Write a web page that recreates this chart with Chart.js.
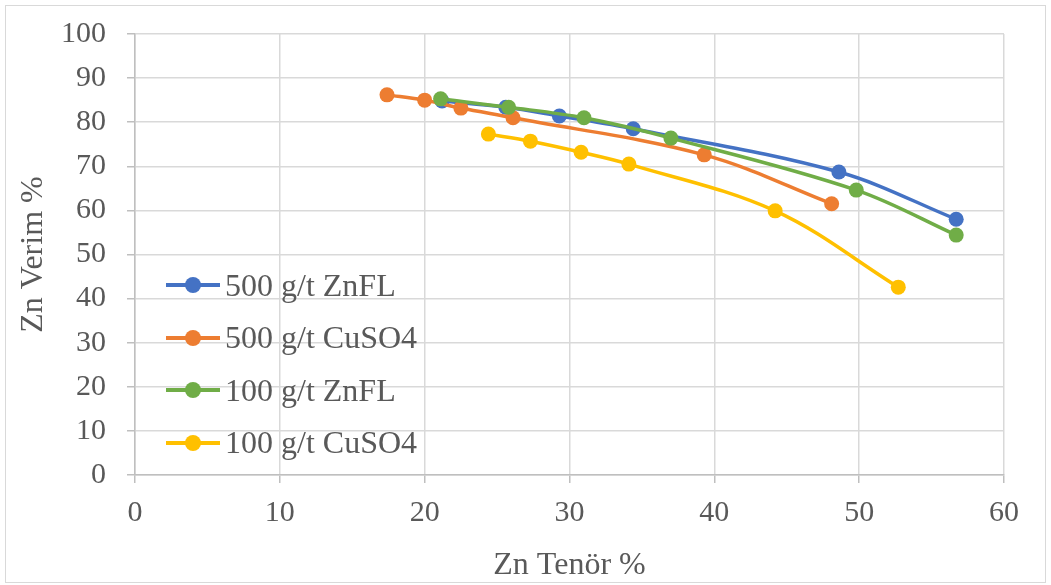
<!DOCTYPE html>
<html>
<head>
<meta charset="utf-8">
<script src="https://cdn.jsdelivr.net/npm/chart.js@4"></script>
<style>
  html, body { margin: 0; padding: 0; background: #fff; }
  #wrap { position: relative; width: 1051px; height: 585px; }
  #chart { position: absolute; left: 0; top: 0; }
  #frame { position: absolute; left: 5px; top: 5px; width: 1041px; height: 578px; border: 1px solid #d9d9d9; box-sizing: border-box; }
  #legend { position: absolute; left: 166px; top: 259px; font-family: "Liberation Serif", "Times New Roman", serif; font-size: 32px; color: #595959; }
  #legend .row { height: 52.5px; display: flex; align-items: center; }
  #legend .mark { position: relative; width: 54px; height: 16px; margin-right: 5px; }
  #legend .mark i { position: absolute; left: 0; right: 0; top: 6px; height: 4px; }
  #legend .mark b { position: absolute; left: 19px; top: 0; width: 16px; height: 16px; border-radius: 50%; }
</style>
</head>
<body>
<div id="wrap">
  <div id="frame"></div>
  <canvas id="chart" width="1051" height="585"></canvas>
  <div id="legend"></div>
</div>
<script>
const seriesNames = ['500 g/t ZnFL', '500 g/t CuSO4', '100 g/t ZnFL', '100 g/t CuSO4'];
const seriesColors = ['#4472C4', '#ED7D31', '#70AD47', '#FFC000'];

// Zn Tenör % (x) and Zn Verim % (y)
const znfl500X = [21.2, 25.6, 29.3, 34.4, 48.6, 56.7];
const znfl500Y = [84.8, 83.4, 81.4, 78.5, 68.7, 58.0];
const cuso500X = [17.4, 20.0, 22.5, 26.1, 39.3, 48.1];
const cuso500Y = [86.2, 85.0, 83.2, 81.0, 72.6, 61.5];
const znfl100X = [21.1, 25.8, 31.0, 37.0, 49.8, 56.7];
const znfl100Y = [85.3, 83.4, 81.0, 76.4, 64.6, 54.4];
const cuso100X = [24.4, 27.3, 30.8, 34.1, 44.2, 52.7];
const cuso100Y = [77.3, 75.7, 73.2, 70.5, 59.9, 42.6];

const xTicks = [0, 10, 20, 30, 40, 50, 60];
const yTicks = [0, 10, 20, 30, 40, 50, 60, 70, 80, 90, 100];

const seriesX = [znfl500X, cuso500X, znfl100X, cuso100X];
const seriesY = [znfl500Y, cuso500Y, znfl100Y, cuso100Y];

const family = '"Liberation Serif", "Times New Roman", serif';
const tickFont = { family: family, size: 30 };
const titleFont = { family: family, size: 32 };
const textColor = '#595959';

const datasets = seriesNames.map((name, i) => ({
    label: name,
    data: seriesX[i].map((x, j) => ({ x: x, y: seriesY[i][j] })),
    borderColor: seriesColors[i],
    backgroundColor: seriesColors[i],
    borderWidth: 3.5,
    pointRadius: 7.5,
    pointHoverRadius: 7.5,
    pointBorderWidth: 0,
    tension: 0.35,
    showLine: true,
    order: 4 - i
}));

new Chart('chart', {
    type: 'scatter',
    data: { datasets: datasets },
    options: {
        responsive: false,
        animation: false,
        layout: { padding: { left: 14, right: 47, top: 34, bottom: 0 } },
        plugins: { legend: { display: false }, tooltip: { enabled: false } },
        scales: {
            x: {
                min: 0, max: 60,
                afterBuildTicks: axis => { axis.ticks = xTicks.map(v => ({ value: v })); },
                afterFit: axis => { axis.height = 110; axis.paddingLeft = 0; axis.paddingRight = 0; },
                grid: { color: '#d9d9d9', lineWidth: 1.5, tickLength: 8, tickColor: '#bfbfbf' },
                border: { color: '#bfbfbf', width: 1.5 },
                ticks: { font: tickFont, color: textColor, padding: 12, maxRotation: 0 },
                title: { display: true, text: 'Zn Tenör %', font: titleFont, color: textColor, padding: { top: 0, bottom: 0 } }
            },
            y: {
                min: 0, max: 100,
                afterBuildTicks: axis => { axis.ticks = yTicks.map(v => ({ value: v })); },
                afterFit: axis => { axis.width = 121; axis.paddingTop = 0; axis.paddingBottom = 0; },
                grid: { color: '#d9d9d9', lineWidth: 1.5, tickLength: 8, tickColor: '#bfbfbf' },
                border: { color: '#bfbfbf', width: 1.5 },
                ticks: { font: tickFont, color: textColor, padding: 21 },
                title: { display: true, text: 'Zn Verim %', font: titleFont, color: textColor, padding: { top: 0, bottom: 0 } }
            }
        }
    }
});

const legend = document.getElementById('legend');
seriesNames.forEach((name, i) => {
    const row = document.createElement('div');
    row.className = 'row';
    row.innerHTML = '<span class="mark"><i style="background:' + seriesColors[i] + '"></i><b style="background:' + seriesColors[i] + '"></b></span><span>' + name + '</span>';
    legend.appendChild(row);
});
</script>
</body>
</html>
